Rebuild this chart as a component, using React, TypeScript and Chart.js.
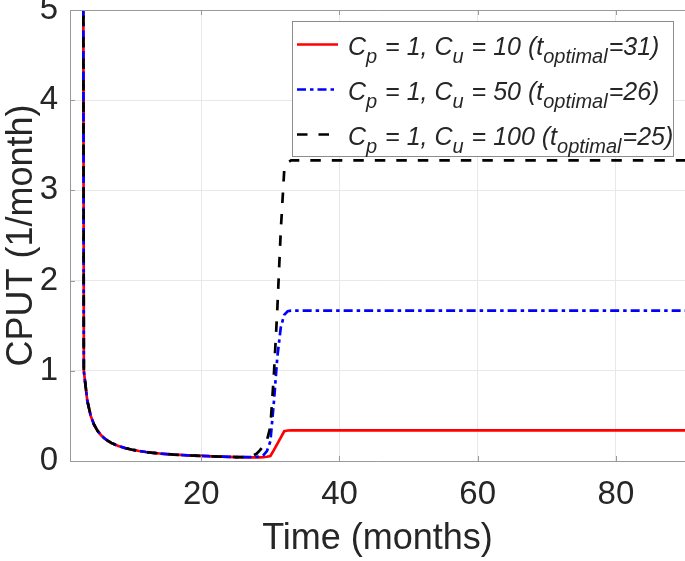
import React, { useEffect, useRef } from "react";
import { Chart, registerables } from "chart.js";

Chart.register(...registerables);

// ---- data ----
const time = [
  2, 3, 3.5, 4, 4.5, 5, 5.5, 6, 6.5, 7, 7.5, 8, 9, 10, 11, 12, 13, 14, 15, 16, 17, 18, 19, 20, 21, 22, 23,
  24, 25, 26, 27, 28, 28.5, 29, 29.5, 30, 30.5, 31, 31.5, 32, 32.5, 33, 34, 40, 50, 60, 70, 80, 90,
];

const cuRed = [
  60, 1.0, 0.67, 0.5, 0.4, 0.333, 0.286, 0.25, 0.222, 0.2, 0.182, 0.167, 0.143, 0.125, 0.111, 0.1, 0.091,
  0.083, 0.077, 0.071, 0.067, 0.0625, 0.059, 0.056, 0.053, 0.05, 0.048, 0.046, 0.044, 0.042, 0.041, 0.04,
  0.04, 0.042, 0.047, 0.055, 0.12, 0.19, 0.26, 0.33, 0.338, 0.34, 0.34, 0.34, 0.34, 0.34, 0.34, 0.34, 0.34,
];

const cuBlue = [
  60, 1.0, 0.67, 0.5, 0.4, 0.333, 0.286, 0.25, 0.222, 0.2, 0.182, 0.167, 0.143, 0.125, 0.111, 0.1, 0.091,
  0.083, 0.077, 0.071, 0.067, 0.0625, 0.059, 0.056, 0.053, 0.05, 0.048, 0.046, 0.044, 0.042, 0.042, 0.045,
  0.05, 0.065, 0.11, 0.22, 0.65, 1.15, 1.48, 1.62, 1.66, 1.667, 1.667, 1.667, 1.667, 1.667, 1.667, 1.667, 1.667,
];

const cuBlack = [
  60, 1.0, 0.67, 0.5, 0.4, 0.333, 0.286, 0.25, 0.222, 0.2, 0.182, 0.167, 0.143, 0.125, 0.111, 0.1, 0.091,
  0.083, 0.077, 0.071, 0.067, 0.0625, 0.059, 0.056, 0.053, 0.05, 0.048, 0.046, 0.044, 0.042, 0.046, 0.08,
  0.12, 0.17, 0.23, 0.38, 0.95, 1.68, 2.55, 3.22, 3.31, 3.333, 3.333, 3.333, 3.333, 3.333, 3.333, 3.333, 3.333,
];

const xTicks = [20, 40, 60, 80];
const yTicks = [0, 1, 2, 3, 4, 5];

const legendRows = [
  { cu: "10", topt: "31" },
  { cu: "50", topt: "26" },
  { cu: "100", topt: "25" },
];

const FONT = "'Liberation Sans', Arial, Helvetica, sans-serif";
const TEXT = "#262626";
const AXIS = "#9a9a9a";

const colors = ["#ff0000", "#0000ff", "#000000"];
const dashes: number[][] = [[], [9, 4, 3.5, 4], [10.5, 11]];

const framePlugin = {
  id: "frame",
  afterDraw(chart: any) {
    const { ctx, chartArea: a, scales } = chart;
    ctx.save();
    ctx.strokeStyle = AXIS;
    ctx.lineWidth = 1;
    ctx.beginPath();
    ctx.moveTo(a.left + 0.5, a.top + 0.5);
    ctx.lineTo(a.right, a.top + 0.5);
    ctx.moveTo(a.left + 0.5, a.top);
    ctx.lineTo(a.left + 0.5, a.bottom + 0.5);
    ctx.lineTo(a.right, a.bottom + 0.5);
    // inner ticks
    const tl = 5;
    for (const v of yTicks) {
      const y = Math.round(scales.y.getPixelForValue(v)) + 0.5;
      ctx.moveTo(a.left, y);
      ctx.lineTo(a.left + tl, y);
    }
    for (const v of xTicks) {
      const x = Math.round(scales.x.getPixelForValue(v)) + 0.5;
      ctx.moveTo(x, a.bottom);
      ctx.lineTo(x, a.bottom - tl);
      ctx.moveTo(x, a.top);
      ctx.lineTo(x, a.top + tl);
    }
    ctx.stroke();

    // legend
    const bx = 292.5, by = 21.5, bw = 381, bh = 135;
    ctx.fillStyle = "#ffffff";
    ctx.fillRect(bx, by, bw, bh);
    ctx.strokeStyle = "#8c8c8c";
    ctx.strokeRect(bx, by, bw, bh);
    const mainFont = `italic 25px ${FONT}`;
    const subFont = `italic 20px ${FONT}`;
    legendRows.forEach((r, i) => {
      const ly = 44.5 + i * 45;
      ctx.save();
      ctx.strokeStyle = colors[i];
      ctx.lineWidth = 2.7;
      ctx.setLineDash(dashes[i]);
      ctx.beginPath();
      ctx.moveTo(297, ly);
      ctx.lineTo(338, ly);
      ctx.stroke();
      ctx.restore();
      const base = ly + 10;
      const parts: [string, number][] = [
        ["C", 0], ["p", 1], [" = 1, C", 0], ["u", 1],
        [` = ${r.cu} (t`, 0], ["optimal", 1], [`=${r.topt})`, 0],
      ];
      let x = 348;
      ctx.fillStyle = TEXT;
      ctx.textBaseline = "alphabetic";
      ctx.textAlign = "left";
      for (const [s, sub] of parts) {
        ctx.font = sub ? subFont : mainFont;
        ctx.fillText(s, x, sub ? base + 8.5 : base);
        x += ctx.measureText(s).width + (sub ? 1 : 0);
      }
    });
    ctx.restore();
  },
};

export default function App() {
  const ref = useRef<HTMLCanvasElement | null>(null);
  useEffect(() => {
    if (!ref.current) return;
    const series = [cuRed, cuBlue, cuBlack];
    const labels = ["Cu=10", "Cu=50", "Cu=100"];
    const chart = new Chart(ref.current, {
      type: "line",
      data: {
        datasets: series.map((vals, i) => ({
          label: labels[i],
          data: time.map((t, k) => ({ x: t, y: vals[k] })),
          borderColor: colors[i],
          borderWidth: 2.7,
          borderDash: dashes[i],
          pointRadius: 0,
          fill: false,
          tension: 0,
          order: 3 - i,
        })),
      },
      options: {
        animation: false,
        responsive: false,
        layout: { padding: { top: 10, right: 0, left: 0, bottom: 0 } },
        plugins: { legend: { display: false }, tooltip: { enabled: false } },
        scales: {
          x: {
            type: "linear",
            min: 1,
            max: 90,
            afterBuildTicks: (s: any) => {
              s.ticks = xTicks.map((v) => ({ value: v }));
            },
            afterFit: (s: any) => {
              s.height = 100;
              s.paddingLeft = 0;
              s.paddingRight = 0;
            },
            grid: { color: "#e8e8e8", drawTicks: false },
            border: { display: false },
            ticks: { font: { size: 33, family: FONT }, color: TEXT, padding: 14, maxRotation: 0 },
            title: {
              display: true,
              text: "Time (months)",
              font: { size: 36, family: FONT },
              color: TEXT,
              padding: { top: 0, bottom: 0 },
            },
          },
          y: {
            min: 0,
            max: 5,
            afterBuildTicks: (s: any) => {
              s.ticks = yTicks.map((v) => ({ value: v }));
            },
            afterFit: (s: any) => {
              s.width = 70;
              s.paddingTop = 0;
              s.paddingBottom = 0;
            },
            grid: { color: "#e8e8e8", drawTicks: false },
            border: { display: false },
            ticks: { font: { size: 33, family: FONT }, color: TEXT, padding: 12 },
            title: {
              display: true,
              text: "CPUT (1/month)",
              font: { size: 36, family: FONT },
              color: TEXT,
              padding: { top: 0, bottom: 0 },
            },
          },
        },
      },
      plugins: [framePlugin],
    });
    return () => chart.destroy();
  }, []);
  return (
    <div style={{ position: "fixed", left: 0, top: 0, width: 685, height: 561, background: "#fff" }}>
      <canvas ref={ref} width={685} height={561} />
    </div>
  );
}
